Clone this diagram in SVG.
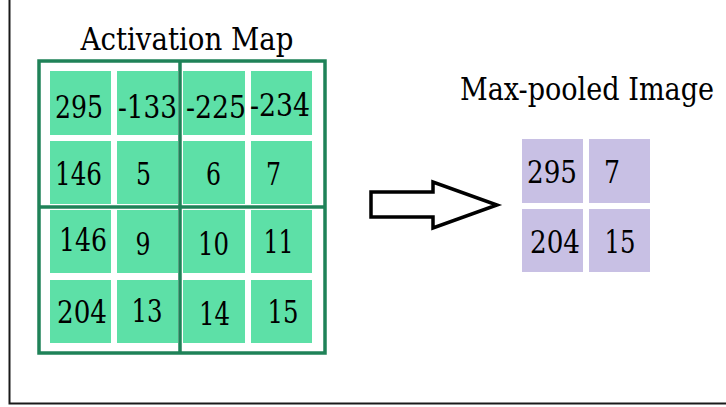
<svg xmlns="http://www.w3.org/2000/svg" width="726" height="407" viewBox="0 0 726 407">
<style>
text{font-family:'DejaVu Serif Condensed','DejaVu Serif',serif;fill:#000;text-anchor:middle}
.d{font-size:31px}
.h{font-size:32px}
.g{fill:#5de0a7}
.p{fill:#c8c0e4}
.fr{fill:none;stroke:#1f8258;stroke-width:3.5}
</style>
<rect width="726" height="407" fill="#fff"/>
<g id="frame">
<path d="M9.5,0 V403.5 H726" fill="none" stroke="#1a1a1a" stroke-width="2"/>
</g>
<g id="activation-map">
<text class="h" x="187" y="50" textLength="213" lengthAdjust="spacingAndGlyphs">Activation Map</text>
<rect class="g" x="50" y="71" width="61" height="64"/>
<rect class="g" x="117" y="71" width="61" height="64"/>
<rect class="g" x="183" y="71" width="62" height="64"/>
<rect class="g" x="251" y="71" width="61" height="64"/>
<rect class="g" x="50" y="141" width="61" height="63"/>
<rect class="g" x="117" y="141" width="61" height="63"/>
<rect class="g" x="183" y="141" width="62" height="63"/>
<rect class="g" x="251" y="141" width="61" height="63"/>
<rect class="g" x="50" y="210" width="61" height="63"/>
<rect class="g" x="117" y="210" width="61" height="63"/>
<rect class="g" x="183" y="210" width="62" height="63"/>
<rect class="g" x="251" y="210" width="61" height="63"/>
<rect class="g" x="50" y="280" width="61" height="63"/>
<rect class="g" x="117" y="280" width="61" height="63"/>
<rect class="g" x="183" y="280" width="62" height="63"/>
<rect class="g" x="251" y="280" width="61" height="63"/>
<rect class="fr" x="39" y="61" width="286" height="292"/>
<path class="fr" d="M180,61 V353 M39,207 H325"/>
<text class="d" x="79" y="118" textLength="48" lengthAdjust="spacingAndGlyphs">295</text>
<text class="d" x="147.5" y="118" textLength="59" lengthAdjust="spacingAndGlyphs">-133</text>
<text class="d" x="216" y="118" textLength="60" lengthAdjust="spacingAndGlyphs">-225</text>
<text class="d" x="280" y="116" textLength="60" lengthAdjust="spacingAndGlyphs">-234</text>
<text class="d" x="78.5" y="185" textLength="47" lengthAdjust="spacingAndGlyphs">146</text>
<text class="d" x="143.5" y="185" textLength="15" lengthAdjust="spacingAndGlyphs">5</text>
<text class="d" x="213.5" y="185" textLength="15" lengthAdjust="spacingAndGlyphs">6</text>
<text class="d" x="273.5" y="185" textLength="15" lengthAdjust="spacingAndGlyphs">7</text>
<text class="d" x="83" y="251" textLength="48" lengthAdjust="spacingAndGlyphs">146</text>
<text class="d" x="143" y="255" textLength="15" lengthAdjust="spacingAndGlyphs">9</text>
<text class="d" x="213.5" y="255" textLength="31" lengthAdjust="spacingAndGlyphs">10</text>
<text class="d" x="278.5" y="253" textLength="30" lengthAdjust="spacingAndGlyphs">11</text>
<text class="d" x="82" y="323" textLength="50" lengthAdjust="spacingAndGlyphs">204</text>
<text class="d" x="147" y="322" textLength="31" lengthAdjust="spacingAndGlyphs">13</text>
<text class="d" x="214.5" y="325" textLength="31" lengthAdjust="spacingAndGlyphs">14</text>
<text class="d" x="283" y="323" textLength="31" lengthAdjust="spacingAndGlyphs">15</text>
</g>
<g id="connectors">
<path d="M371,192 H433 V182 L497,205 L433,228 V217 H371 Z" fill="#fff" stroke="#000" stroke-width="3.5" stroke-linejoin="miter"/>
</g>
<g id="max-pooled">
<text class="h" x="587" y="100" textLength="254" lengthAdjust="spacingAndGlyphs">Max-pooled Image</text>
<rect class="p" x="522" y="139" width="61" height="64"/>
<rect class="p" x="589" y="139" width="61" height="64"/>
<rect class="p" x="522" y="209" width="61" height="63"/>
<rect class="p" x="589" y="209" width="61" height="63"/>
<text class="d" x="552" y="183" textLength="50" lengthAdjust="spacingAndGlyphs">295</text>
<text class="d" x="612" y="183" textLength="16" lengthAdjust="spacingAndGlyphs">7</text>
<text class="d" x="555" y="253" textLength="50" lengthAdjust="spacingAndGlyphs">204</text>
<text class="d" x="620" y="253" textLength="31" lengthAdjust="spacingAndGlyphs">15</text>
</g>
</svg>
